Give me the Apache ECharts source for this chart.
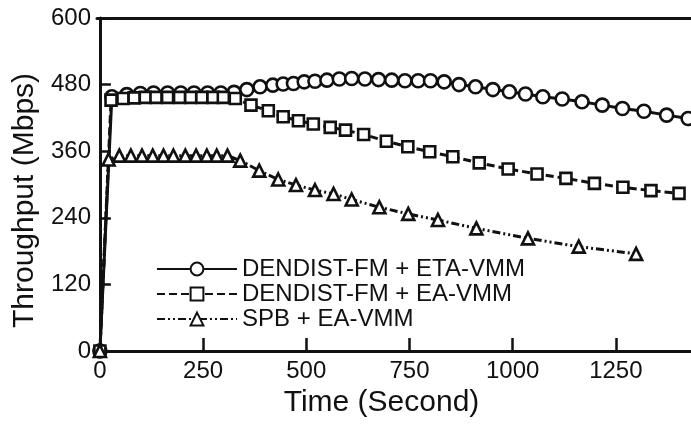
<!DOCTYPE html>
<html>
<head>
<meta charset="utf-8">
<script src="https://cdn.jsdelivr.net/npm/echarts@6/dist/echarts.min.js"></script>
<style>
  html, body { margin: 0; padding: 0; background: #fff; }
  #chart { width: 691px; height: 426px; }
</style>
</head>
<body>
<div id="chart"></div>
<script>
// series names
const seriesNames = ['DENDIST-FM + ETA-VMM', 'DENDIST-FM + EA-VMM', 'SPB + EA-VMM'];

// DENDIST-FM + ETA-VMM (circles)
const circleTime = [0, 29, 65, 98, 130, 164, 196, 228, 261, 293, 325, 356, 388, 419, 444, 469, 495, 521, 550, 580, 610,
  642, 675, 707, 739, 771, 801, 834, 870, 910, 952, 992, 1031, 1073, 1120, 1168, 1217, 1266, 1318, 1373, 1425];
const circleValue = [0, 458, 462, 464, 465, 465, 465, 465, 465, 465, 466, 471, 476, 479, 481, 482, 485, 486, 488, 490, 491,
  490, 489, 488, 487, 487, 487, 485, 480, 476, 471, 467, 463, 458, 454, 449, 443, 437, 432, 425, 419];

// DENDIST-FM + EA-VMM (squares)
const squareTime = [0, 27, 56, 83, 110, 136, 164, 193, 220, 247, 274, 299, 328, 366, 408, 444, 481, 517, 558, 595,
  639, 694, 746, 799, 855, 919, 989, 1059, 1129, 1198, 1267, 1335, 1403];
const squareValue = [0, 452, 455, 456, 457, 457, 457, 457, 457, 457, 457, 457, 455, 443, 433, 422, 415, 409, 403, 398,
  390, 378, 368, 359, 350, 339, 328, 319, 311, 302, 295, 289, 284];

// SPB + EA-VMM (triangles)
const triangleTime = [0, 21, 47, 75, 102, 128, 154, 178, 207, 233, 259, 283, 309, 340, 386, 432, 475, 521, 566, 610,
  677, 747, 819, 912, 1037, 1160, 1299];
const triangleValue = [0, 345, 352, 352, 352, 352, 352, 352, 352, 352, 352, 352, 352, 343, 325, 309, 299, 290, 283, 273,
  259, 247, 236, 221, 203, 188, 175];

// tick labels
const xTicks = [0, 250, 500, 750, 1000, 1250];
const yTicks = [0, 120, 240, 360, 480, 600];

const font = "'Liberation Sans', Arial, sans-serif";
const ink = '#111';

function pairs(xs, ys) {
  return xs.map((x, i) => [x, ys[i]]);
}

function makeSeries(name, xs, ys, symbol, size, dash) {
  return {
    name: name,
    type: 'line',
    data: pairs(xs, ys),
    symbol: symbol,
    symbolSize: size,
    showAllSymbol: true,
    clip: false,
    lineStyle: { color: ink, width: 3, type: dash },
    itemStyle: { color: '#fff', borderColor: ink, borderWidth: 2.6 },
    emphasis: { disabled: true },
    z: 3
  };
}

const chart = echarts.init(document.getElementById('chart'));

const option = {
  animation: false,
  backgroundColor: '#fff',
  grid: { left: 97, top: 18, right: 0, bottom: 75 },
  legend: {
    orient: 'vertical',
    left: 151,
    top: 252,
    itemWidth: 80,
    itemHeight: 16,
    itemGap: 1,
    data: seriesNames,
    textStyle: { fontFamily: font, fontSize: 24, color: ink }
  },
  xAxis: [
    {
      type: 'value',
      min: -7,
      max: 1432,
      name: 'Time (Second)',
      nameLocation: 'middle',
      nameGap: 37,
      nameTextStyle: { fontFamily: font, fontSize: 30, color: ink, padding: [0, 25, 0, 0] },
      axisLine: { onZero: false, lineStyle: { color: ink, width: 3 } },
      axisTick: { inside: true, length: 13, customValues: xTicks, lineStyle: { color: ink, width: 2.5 } },
      axisLabel: {
        customValues: xTicks, margin: 8, fontFamily: font, fontSize: 24, color: ink,
        formatter: v => String(v)
      },
      splitLine: { show: false }
    },
    {
      type: 'value',
      position: 'top',
      min: -7,
      max: 1432,
      axisLine: { show: true, onZero: false, lineStyle: { color: ink, width: 3 } },
      axisTick: { show: false },
      axisLabel: { show: false },
      splitLine: { show: false }
    }
  ],
  yAxis: {
    type: 'value',
    min: yTicks[0],
    max: yTicks[yTicks.length - 1],
    interval: 120,
    name: 'Throughput (Mbps)',
    nameLocation: 'middle',
    nameGap: 54,
    nameTextStyle: { fontFamily: font, fontSize: 30, color: ink, padding: [0, 32, 0, 0] },
    axisLine: { show: true, lineStyle: { color: ink, width: 3 } },
    axisTick: { show: true, inside: true, length: 11, lineStyle: { color: ink, width: 2.5 } },
    axisLabel: { margin: 6, fontFamily: font, fontSize: 24, color: ink },
    splitLine: { show: false }
  },
  series: [
    makeSeries(seriesNames[0], circleTime, circleValue, 'circle', 13, 'solid'),
    makeSeries(seriesNames[1], squareTime, squareValue, 'rect', 11, [8, 4]),
    makeSeries(seriesNames[2], triangleTime, triangleValue, 'triangle', 12, [8, 3, 2, 3, 2, 3])
  ]
};

chart.setOption(option);
</script>
</body>
</html>
